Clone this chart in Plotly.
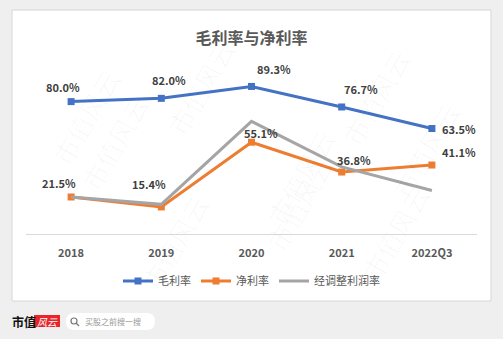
import plotly.graph_objects as go

categories = ["2018", "2019", "2020", "2021", "2022Q3"]
gross_margin = [80.0, 82.0, 89.3, 76.7, 63.5]
net_margin = [21.5, 15.4, 55.1, 36.8, 41.1]
adj_margin = [21.5, 17.0, 67.9, 40.0, 25.5]
series_names = ["毛利率", "净利率", "经调整利润率"]

W, H = 503, 339
L, R, T, B = 26, 477, 69, 234  # plot area in px

def px_x(px):
    return (px - L) / (R - L)

def px_y(py):
    return (B - py) / (B - T)

FONT = "Noto Sans CJK SC"
colors = ["#4472c4", "#ed7d31", "#a5a5a5"]
xi = list(range(len(categories)))

fig = go.Figure()
fig.add_trace(go.Scatter(x=xi, y=gross_margin, name=series_names[0], mode="lines+markers",
                         line=dict(color=colors[0], width=3), marker=dict(symbol="square", size=7, color=colors[0])))
fig.add_trace(go.Scatter(x=xi, y=net_margin, name=series_names[1], mode="lines+markers",
                         line=dict(color=colors[1], width=3), marker=dict(symbol="square", size=7, color=colors[1])))
fig.add_trace(go.Scatter(x=xi, y=adj_margin, name=series_names[2], mode="lines",
                         line=dict(color=colors[2], width=3)))

# data labels (offsets in px are styling)
blue_off = [(-8, 15), (8, 18), (22, 17), (19, 18), (27, 0)]
orange_off = [(-12, 14), (-12, 23), (9, 9), (12, 12), (27, 13)]
ann = []
for i in xi:
    ann.append(dict(x=i, y=gross_margin[i], xref="x", yref="y", text=f"{gross_margin[i]:.1f}%",
                    showarrow=False, xshift=blue_off[i][0], yshift=blue_off[i][1],
                    font=dict(family=FONT, size=11, color="#404040", weight="bold")))
    ann.append(dict(x=i, y=net_margin[i], xref="x", yref="y", text=f"{net_margin[i]:.1f}%",
                    showarrow=False, xshift=orange_off[i][0], yshift=orange_off[i][1],
                    font=dict(family=FONT, size=11, color="#404040", weight="bold")))

# watermarks
wm_pos = [(40, 60), (200, 30), (420, 40), (70, 200), (300, 120), (470, 150), (130, 300), (300, 260), (440, 290)]
for (wx, wy) in wm_pos:
    ann.append(dict(x=px_x(wx), y=px_y(wy), xref="paper", yref="paper", text="市值风云", showarrow=False,
                    textangle=-60, font=dict(family=FONT, size=26, color="rgba(0,0,0,0.028)")))

# footer
ann.append(dict(x=px_x(10), y=px_y(321), xref="paper", yref="paper", xanchor="left", yanchor="middle",
                text="<b>市值</b>", showarrow=False, font=dict(family=FONT, size=12, color="#111111")))
ann.append(dict(x=px_x(47), y=px_y(321), xref="paper", yref="paper", xanchor="center", yanchor="middle",
                text="<i>风云</i>", showarrow=False, font=dict(family=FONT, size=10, color="#ffffff")))
ann.append(dict(x=px_x(83), y=px_y(321.5), xref="paper", yref="paper", xanchor="left", yanchor="middle",
                text="买股之前搜一搜", showarrow=False, font=dict(family=FONT, size=8, color="#9a9a9a")))

shapes = [
    dict(type="rect", xref="paper", yref="paper", x0=px_x(12), x1=px_x(491), y0=px_y(301), y1=px_y(10),
         fillcolor="white", line=dict(color="#d6d6d6", width=1), layer="below"),
    dict(type="rect", xref="paper", yref="paper", x0=px_x(34), x1=px_x(60), y0=px_y(327), y1=px_y(315),
         fillcolor="#e8252b", line=dict(width=0), layer="below"),
    dict(type="path", xref="paper", yref="paper",
         path=f"M {px_x(74)},{px_y(313)} L {px_x(147)},{px_y(313)} Q {px_x(155)},{px_y(313)} {px_x(155)},{px_y(321.5)} "
              f"Q {px_x(155)},{px_y(330)} {px_x(147)},{px_y(330)} L {px_x(74)},{px_y(330)} "
              f"Q {px_x(66)},{px_y(330)} {px_x(66)},{px_y(321.5)} Q {px_x(66)},{px_y(313)} {px_x(74)},{px_y(313)} Z",
         fillcolor="white", line=dict(width=0), layer="below"),
    # magnifier icon
    dict(type="circle", xref="paper", yref="paper", x0=px_x(71), x1=px_x(77), y0=px_y(324), y1=px_y(318),
         line=dict(color="#777777", width=1.2), layer="below"),
    dict(type="line", xref="paper", yref="paper", x0=px_x(76), x1=px_x(79), y0=px_y(323), y1=px_y(326),
         line=dict(color="#777777", width=1.2), layer="below"),
]

fig.update_layout(
    width=W, height=H,
    margin=dict(l=L, r=W - R, t=T, b=H - B, pad=0),
    paper_bgcolor="#efefef", plot_bgcolor="rgba(0,0,0,0)",
    title=dict(text="<b>毛利率与净利率</b>", x=0.5, xanchor="center", y=1 - 38 / H, yanchor="middle",
               yref="container", font=dict(family=FONT, size=16, color="#595959")),
    xaxis=dict(range=[-0.5, len(categories) - 0.5], tickvals=xi, ticktext=categories,
               showgrid=False, showline=True, linecolor="#d9d9d9", linewidth=1,
               ticks="", ticklabelstandoff=9, zeroline=False,
               tickfont=dict(family=FONT, size=11, color="#595959", weight="bold")),
    yaxis=dict(range=[-1.2, 100], visible=False, showgrid=False, zeroline=False),
    legend=dict(orientation="h", x=0.5, xanchor="center", y=px_y(281), yanchor="middle",
                font=dict(family=FONT, size=11, color="#595959"), bgcolor="rgba(0,0,0,0)",
                itemwidth=30, tracegroupgap=0),
    showlegend=True,
    annotations=ann, shapes=shapes,
)

fig.write_html("out.html")
